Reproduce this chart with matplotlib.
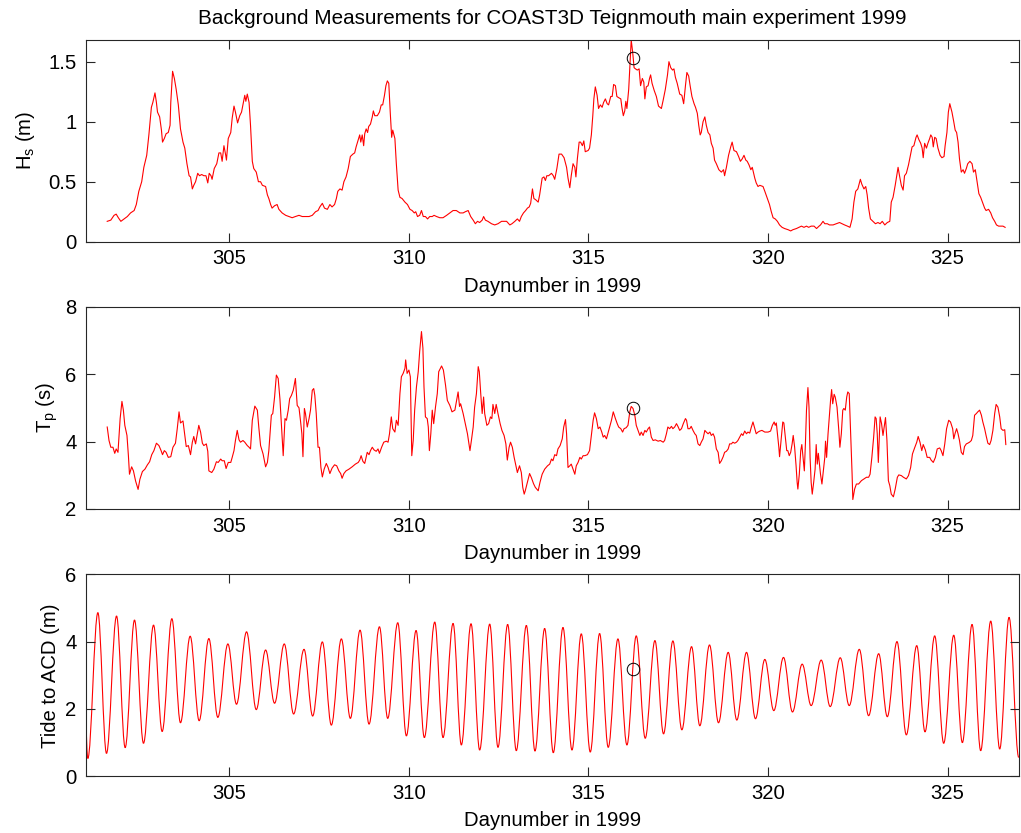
import numpy as np
import matplotlib
matplotlib.use('Agg')
import matplotlib.pyplot as plt
from matplotlib.path import Path
from matplotlib.patches import PathPatch

# wave height Hs (m)
hs_day = [301.60, 301.70, 301.79, 301.85, 301.91, 301.98, 302.07, 302.16, 302.25, 302.35,
          302.41, 302.48, 302.56, 302.62, 302.70, 302.76, 302.83, 302.87, 302.93, 302.97,
          303.00, 303.06, 303.11, 303.14, 303.19, 303.24, 303.30, 303.35, 303.37, 303.42,
          303.47, 303.52, 303.58, 303.64, 303.71, 303.76, 303.82, 303.88, 303.92, 303.97,
          304.01, 304.06, 304.12, 304.17, 304.23, 304.29, 304.35, 304.40, 304.44, 304.49,
          304.52, 304.58, 304.65, 304.71, 304.76, 304.80, 304.85, 304.90, 304.92, 304.97,
          305.04, 305.08, 305.13, 305.17, 305.23, 305.29, 305.34, 305.41, 305.43, 305.46,
          305.50, 305.55, 305.59, 305.64, 305.68, 305.75, 305.81, 305.87, 305.92, 306.01,
          306.06, 306.10, 306.15, 306.19, 306.26, 306.33, 306.38, 306.47, 306.57, 306.66,
          306.75, 306.84, 306.94, 307.03, 307.12, 307.22, 307.31, 307.40, 307.47, 307.52,
          307.59, 307.65, 307.73, 307.80, 307.86, 307.93, 307.98, 308.02, 308.08, 308.14,
          308.19, 308.25, 308.31, 308.37, 308.44, 308.49, 308.53, 308.59, 308.63, 308.66,
          308.70, 308.74, 308.77, 308.81, 308.85, 308.88, 308.93, 308.98, 309.01, 309.05,
          309.12, 309.18, 309.23, 309.27, 309.32, 309.36, 309.40, 309.44, 309.48, 309.52,
          309.55, 309.61, 309.65, 309.70, 309.75, 309.81, 309.89, 309.96, 310.03, 310.09,
          310.15, 310.19, 310.24, 310.30, 310.35, 310.40, 310.46, 310.52, 310.58, 310.65,
          310.70, 310.77, 310.86, 310.95, 311.05, 311.14, 311.23, 311.32, 311.42, 311.51,
          311.57, 311.65, 311.72, 311.79, 311.85, 311.91, 311.97, 312.04, 312.08, 312.13,
          312.20, 312.30, 312.39, 312.48, 312.58, 312.65, 312.72, 312.81, 312.87, 312.95,
          313.02, 313.08, 313.13, 313.19, 313.25, 313.30, 313.35, 313.39, 313.44, 313.48,
          313.53, 313.60, 313.64, 313.71, 313.76, 313.80, 313.84, 313.89, 313.97, 314.02,
          314.06, 314.12, 314.18, 314.25, 314.32, 314.39, 314.43, 314.48, 314.52, 314.57,
          314.62, 314.65, 314.69, 314.74, 314.78, 314.83, 314.87, 314.91, 314.99, 315.03,
          315.08, 315.12, 315.15, 315.19, 315.24, 315.28, 315.33, 315.38, 315.42, 315.47,
          315.52, 315.56, 315.62, 315.66, 315.70, 315.75, 315.79, 315.84, 315.90, 315.93,
          315.97, 316.01, 316.04, 316.07, 316.12, 316.15, 316.19, 316.23, 316.27, 316.31,
          316.36, 316.41, 316.45, 316.50, 316.54, 316.57, 316.61, 316.66, 316.70, 316.73,
          316.77, 316.83, 316.89, 316.95, 317.03, 317.08, 317.14, 317.20, 317.24, 317.29,
          317.34, 317.38, 317.42, 317.47, 317.54, 317.60, 317.65, 317.70, 317.74, 317.79,
          317.83, 317.88, 317.94, 317.98, 318.03, 318.07, 318.11, 318.14, 318.19, 318.24,
          318.28, 318.33, 318.38, 318.42, 318.47, 318.51, 318.56, 318.63, 318.70, 318.76,
          318.79, 318.84, 318.90, 318.96, 319.00, 319.05, 319.12, 319.18, 319.23, 319.28,
          319.33, 319.38, 319.42, 319.47, 319.52, 319.56, 319.63, 319.67, 319.72, 319.77,
          319.86, 319.91, 319.98, 320.04, 320.09, 320.14, 320.20, 320.26, 320.32, 320.39,
          320.46, 320.56, 320.63, 320.69, 320.79, 320.86, 320.93, 321.00, 321.07, 321.13,
          321.20, 321.28, 321.35, 321.42, 321.46, 321.53, 321.58, 321.65, 321.71, 321.81,
          321.90, 321.99, 322.06, 322.13, 322.21, 322.28, 322.34, 322.39, 322.44, 322.50,
          322.57, 322.61, 322.67, 322.72, 322.76, 322.80, 322.85, 322.92, 322.99, 323.06,
          323.12, 323.18, 323.25, 323.32, 323.39, 323.43, 323.48, 323.54, 323.62, 323.66,
          323.71, 323.76, 323.80, 323.85, 323.91, 323.97, 324.01, 324.06, 324.12, 324.15,
          324.20, 324.25, 324.29, 324.32, 324.36, 324.41, 324.45, 324.50, 324.53, 324.57,
          324.60, 324.64, 324.68, 324.73, 324.79, 324.84, 324.90, 324.93, 324.98, 325.02,
          325.06, 325.12, 325.17, 325.21, 325.25, 325.29, 325.33, 325.38, 325.43, 325.47,
          325.52, 325.56, 325.62, 325.68, 325.72, 325.77, 325.82, 325.87, 325.92, 325.98,
          326.03, 326.07, 326.14, 326.20, 326.25, 326.31, 326.36, 326.42, 326.47, 326.54,
          326.60]
hs = [0.17, 0.18, 0.22, 0.23, 0.20, 0.17, 0.19, 0.21, 0.24, 0.26,
      0.31, 0.42, 0.50, 0.62, 0.72, 0.89, 1.12, 1.16, 1.24, 1.16,
      1.08, 1.04, 0.93, 0.83, 0.86, 0.90, 0.91, 0.97, 1.16, 1.42,
      1.36, 1.27, 1.14, 0.94, 0.83, 0.78, 0.65, 0.55, 0.54, 0.44,
      0.47, 0.50, 0.57, 0.55, 0.56, 0.55, 0.55, 0.49, 0.57, 0.55,
      0.52, 0.61, 0.65, 0.74, 0.74, 0.67, 0.80, 0.72, 0.68, 0.86,
      0.91, 1.03, 1.13, 1.08, 0.99, 1.05, 1.08, 1.19, 1.22, 1.17,
      1.23, 1.16, 0.97, 0.67, 0.61, 0.58, 0.50, 0.50, 0.47, 0.46,
      0.39, 0.36, 0.31, 0.28, 0.30, 0.31, 0.27, 0.24, 0.22, 0.21,
      0.20, 0.21, 0.22, 0.21, 0.21, 0.21, 0.22, 0.25, 0.26, 0.29,
      0.32, 0.28, 0.27, 0.31, 0.29, 0.31, 0.36, 0.42, 0.44, 0.43,
      0.50, 0.54, 0.61, 0.71, 0.73, 0.74, 0.79, 0.85, 0.89, 0.83,
      0.89, 0.80, 0.90, 0.94, 0.91, 0.96, 0.98, 1.04, 1.09, 1.05,
      1.05, 1.08, 1.14, 1.14, 1.22, 1.30, 1.34, 1.32, 1.08, 0.87,
      0.93, 0.86, 0.65, 0.43, 0.37, 0.36, 0.33, 0.31, 0.27, 0.26,
      0.24, 0.25, 0.21, 0.22, 0.26, 0.21, 0.21, 0.19, 0.21, 0.21,
      0.22, 0.21, 0.20, 0.20, 0.22, 0.24, 0.26, 0.26, 0.24, 0.24,
      0.25, 0.26, 0.21, 0.18, 0.15, 0.17, 0.16, 0.18, 0.21, 0.18,
      0.17, 0.15, 0.14, 0.15, 0.17, 0.17, 0.17, 0.14, 0.15, 0.17,
      0.19, 0.17, 0.21, 0.24, 0.26, 0.28, 0.29, 0.32, 0.44, 0.36,
      0.35, 0.33, 0.39, 0.53, 0.54, 0.51, 0.55, 0.55, 0.57, 0.55,
      0.52, 0.61, 0.73, 0.73, 0.70, 0.62, 0.53, 0.45, 0.55, 0.65,
      0.62, 0.54, 0.69, 0.83, 0.83, 0.80, 0.84, 0.75, 0.76, 0.78,
      0.89, 1.05, 1.19, 1.29, 1.22, 1.11, 1.14, 1.12, 1.16, 1.19,
      1.15, 1.14, 1.21, 1.21, 1.31, 1.30, 1.21, 1.20, 1.19, 1.12,
      1.05, 1.09, 1.17, 1.11, 1.27, 1.44, 1.68, 1.58, 1.45, 1.44,
      1.43, 1.44, 1.30, 1.36, 1.33, 1.19, 1.29, 1.30, 1.36, 1.39,
      1.32, 1.26, 1.21, 1.13, 1.11, 1.18, 1.27, 1.39, 1.50, 1.45,
      1.43, 1.44, 1.37, 1.32, 1.23, 1.22, 1.15, 1.30, 1.41, 1.38,
      1.30, 1.21, 1.15, 1.12, 1.07, 0.97, 0.89, 0.91, 1.00, 1.04,
      0.97, 0.91, 0.89, 0.82, 0.78, 0.68, 0.65, 0.60, 0.58, 0.60,
      0.55, 0.62, 0.72, 0.79, 0.83, 0.76, 0.75, 0.71, 0.67, 0.69,
      0.72, 0.68, 0.67, 0.64, 0.60, 0.62, 0.53, 0.49, 0.46, 0.47,
      0.46, 0.42, 0.36, 0.31, 0.25, 0.20, 0.19, 0.17, 0.14, 0.12,
      0.11, 0.10, 0.09, 0.10, 0.11, 0.12, 0.13, 0.12, 0.13, 0.12,
      0.13, 0.13, 0.11, 0.13, 0.14, 0.17, 0.15, 0.15, 0.14, 0.14,
      0.15, 0.16, 0.15, 0.14, 0.13, 0.12, 0.19, 0.33, 0.42, 0.44,
      0.52, 0.48, 0.44, 0.46, 0.39, 0.28, 0.19, 0.17, 0.15, 0.16,
      0.15, 0.17, 0.14, 0.16, 0.17, 0.33, 0.37, 0.47, 0.62, 0.55,
      0.47, 0.43, 0.55, 0.57, 0.64, 0.73, 0.79, 0.80, 0.87, 0.89,
      0.85, 0.82, 0.78, 0.70, 0.82, 0.78, 0.82, 0.86, 0.89, 0.87,
      0.79, 0.87, 0.86, 0.78, 0.72, 0.70, 0.71, 0.80, 0.91, 1.08,
      1.15, 1.08, 1.00, 0.93, 0.91, 0.83, 0.69, 0.58, 0.60, 0.57,
      0.61, 0.65, 0.67, 0.65, 0.58, 0.60, 0.50, 0.40, 0.37, 0.32,
      0.28, 0.26, 0.27, 0.24, 0.20, 0.17, 0.14, 0.13, 0.13, 0.13,
      0.12]

# peak period Tp (s)
tp_day = [301.60, 301.65, 301.70, 301.76, 301.81, 301.85, 301.90, 301.96, 302.01, 302.05,
          302.09, 302.15, 302.19, 302.22, 302.28, 302.33, 302.39, 302.46, 302.51, 302.58,
          302.65, 302.72, 302.78, 302.84, 302.90, 302.97, 303.04, 303.10, 303.14, 303.19,
          303.24, 303.30, 303.37, 303.43, 303.50, 303.55, 303.60, 303.64, 303.71, 303.76,
          303.80, 303.86, 303.92, 303.97, 304.01, 304.06, 304.11, 304.15, 304.20, 304.25,
          304.29, 304.36, 304.40, 304.43, 304.51, 304.57, 304.64, 304.69, 304.76, 304.80,
          304.86, 304.91, 304.97, 305.04, 305.08, 305.13, 305.17, 305.22, 305.27, 305.31,
          305.38, 305.43, 305.50, 305.55, 305.59, 305.64, 305.71, 305.78, 305.82, 305.87,
          305.94, 306.01, 306.06, 306.10, 306.17, 306.21, 306.26, 306.31, 306.36, 306.41,
          306.45, 306.50, 306.55, 306.59, 306.64, 306.68, 306.73, 306.78, 306.83, 306.84,
          306.89, 306.94, 306.98, 307.02, 307.05, 307.09, 307.12, 307.17, 307.22, 307.26,
          307.31, 307.35, 307.38, 307.42, 307.47, 307.51, 307.55, 307.59, 307.64, 307.70,
          307.75, 307.80, 307.86, 307.93, 307.99, 308.05, 308.10, 308.14, 308.19, 308.25,
          308.33, 308.42, 308.51, 308.59, 308.63, 308.67, 308.72, 308.77, 308.84, 308.89,
          308.93, 308.98, 309.03, 309.09, 309.14, 309.18, 309.24, 309.30, 309.37, 309.42,
          309.46, 309.51, 309.55, 309.61, 309.65, 309.70, 309.75, 309.79, 309.84, 309.89,
          309.91, 309.95, 310.00, 310.04, 310.08, 310.12, 310.16, 310.21, 310.26, 310.30,
          310.35, 310.39, 310.42, 310.46, 310.51, 310.54, 310.57, 310.61, 310.65, 310.69,
          310.74, 310.79, 310.83, 310.91, 310.96, 311.02, 311.07, 311.14, 311.20, 311.28,
          311.33, 311.37, 311.41, 311.44, 311.51, 311.57, 311.63, 311.70, 311.74, 311.79,
          311.83, 311.88, 311.93, 311.96, 312.00, 312.04, 312.08, 312.11, 312.17, 312.22,
          312.27, 312.31, 312.34, 312.39, 312.43, 312.48, 312.54, 312.59, 312.65, 312.70,
          312.74, 312.79, 312.83, 312.88, 312.93, 312.98, 313.02, 313.08, 313.13, 313.17,
          313.21, 313.24, 313.30, 313.36, 313.41, 313.47, 313.52, 313.60, 313.65, 313.71,
          313.78, 313.86, 313.92, 313.97, 314.01, 314.06, 314.11, 314.15, 314.21, 314.27,
          314.31, 314.36, 314.39, 314.43, 314.48, 314.52, 314.57, 314.62, 314.66, 314.71,
          314.76, 314.80, 314.85, 314.90, 314.97, 315.03, 315.08, 315.13, 315.17, 315.22,
          315.27, 315.32, 315.37, 315.41, 315.45, 315.50, 315.55, 315.59, 315.64, 315.69,
          315.75, 315.80, 315.84, 315.90, 315.95, 315.99, 316.05, 316.10, 316.15, 316.19,
          316.24, 316.29, 316.33, 316.38, 316.43, 316.47, 316.52, 316.57, 316.61, 316.66,
          316.70, 316.75, 316.80, 316.86, 316.94, 317.00, 317.08, 317.12, 317.17, 317.21,
          317.26, 317.31, 317.35, 317.40, 317.45, 317.49, 317.54, 317.59, 317.64, 317.70,
          317.73, 317.77, 317.82, 317.86, 317.91, 317.96, 318.00, 318.05, 318.10, 318.14,
          318.19, 318.24, 318.28, 318.33, 318.38, 318.42, 318.47, 318.51, 318.56, 318.61,
          318.65, 318.70, 318.75, 318.79, 318.84, 318.89, 318.93, 318.98, 319.02, 319.07,
          319.12, 319.16, 319.21, 319.26, 319.30, 319.35, 319.40, 319.44, 319.49, 319.53,
          319.58, 319.63, 319.67, 319.72, 319.77, 319.83, 319.91, 320.00, 320.07, 320.12,
          320.17, 320.20, 320.23, 320.26, 320.30, 320.32, 320.37, 320.41, 320.44, 320.48,
          320.52, 320.55, 320.59, 320.63, 320.67, 320.70, 320.74, 320.78, 320.81, 320.83,
          320.87, 320.91, 320.94, 320.98, 321.01, 321.04, 321.07, 321.11, 321.14, 321.17,
          321.20, 321.23, 321.27, 321.31, 321.34, 321.37, 321.40, 321.43, 321.46, 321.50,
          321.54, 321.58, 321.60, 321.63, 321.67, 321.71, 321.74, 321.77, 321.80, 321.84,
          321.87, 321.92, 321.97, 322.00, 322.04, 322.08, 322.11, 322.15, 322.19, 322.22,
          322.26, 322.30, 322.34, 322.36, 322.41, 322.46, 322.52, 322.60, 322.67, 322.74,
          322.80, 322.84, 322.89, 322.94, 322.98, 323.01, 323.04, 323.07, 323.10, 323.12,
          323.16, 323.20, 323.24, 323.27, 323.31, 323.35, 323.39, 323.43, 323.49, 323.54,
          323.60, 323.64, 323.71, 323.77, 323.85, 323.91, 323.97, 324.02, 324.08, 324.14,
          324.18, 324.23, 324.28, 324.32, 324.38, 324.43, 324.50, 324.54, 324.60, 324.66,
          324.71, 324.78, 324.82, 324.87, 324.92, 324.97, 325.03, 325.08, 325.14, 325.17,
          325.21, 325.25, 325.29, 325.33, 325.38, 325.43, 325.47, 325.52, 325.56, 325.61,
          325.66, 325.70, 325.75, 325.80, 325.84, 325.89, 325.94, 325.98, 326.03, 326.07,
          326.12, 326.17, 326.21, 326.26, 326.31, 326.35, 326.40, 326.45, 326.49, 326.54,
          326.59, 326.62]
tp = [4.43, 4.03, 3.83, 3.83, 3.65, 3.78, 3.68, 4.68, 5.19, 4.93,
      4.48, 4.18, 3.58, 3.03, 3.25, 3.13, 2.83, 2.58, 2.88, 3.11,
      3.18, 3.31, 3.40, 3.61, 3.73, 3.95, 3.88, 3.73, 3.61, 3.73,
      3.68, 3.53, 3.55, 3.83, 3.95, 4.38, 4.88, 4.55, 4.61, 4.18,
      3.85, 3.88, 3.61, 3.98, 4.15, 3.93, 4.23, 4.48, 4.28, 3.95,
      3.88, 3.93, 3.71, 3.13, 3.08, 3.18, 3.40, 3.38, 3.48, 3.43,
      3.43, 3.20, 3.38, 3.38, 3.53, 3.73, 4.03, 4.33, 4.05, 3.98,
      4.03, 3.98, 3.88, 3.83, 3.78, 4.63, 5.05, 4.93, 4.43, 3.88,
      3.63, 3.25, 3.38, 3.73, 4.78, 4.83, 5.32, 5.97, 5.87, 5.25,
      4.53, 3.58, 4.68, 4.63, 4.93, 5.27, 5.37, 5.52, 5.82, 5.87,
      5.07, 5.00, 4.63, 4.23, 3.55, 4.98, 4.83, 4.43, 4.68, 4.93,
      5.52, 5.57, 5.37, 4.83, 3.83, 3.83, 3.23, 2.95, 3.18, 3.35,
      3.23, 3.05, 3.21, 3.31, 3.28, 3.13, 3.05, 2.91, 3.05, 3.13,
      3.18, 3.25, 3.33, 3.38, 3.45, 3.58, 3.41, 3.35, 3.68, 3.61,
      3.73, 3.83, 3.75, 3.71, 3.78, 3.65, 3.83, 3.98, 4.01, 3.98,
      4.23, 4.73, 4.38, 4.28, 4.63, 4.48, 5.42, 5.92, 6.02, 6.17,
      6.42, 6.02, 6.12, 5.92, 3.58, 4.03, 4.93, 5.62, 6.07, 6.67,
      7.26, 6.77, 5.62, 4.73, 4.68, 4.43, 3.73, 4.23, 4.93, 4.53,
      5.02, 5.42, 6.07, 6.24, 6.12, 5.67, 5.22, 5.07, 4.88, 4.93,
      5.22, 5.47, 5.04, 5.12, 4.83, 4.53, 4.23, 3.73, 4.03, 4.43,
      5.02, 5.42, 6.22, 6.07, 5.42, 4.83, 5.32, 4.83, 4.48, 4.53,
      4.73, 4.68, 5.10, 4.83, 5.10, 4.83, 4.53, 4.33, 4.18, 3.93,
      3.45, 3.83, 3.98, 3.83, 3.53, 3.28, 3.08, 3.28, 3.08, 2.64,
      2.44, 2.54, 2.79, 3.05, 2.93, 2.75, 2.64, 2.54, 2.79, 3.03,
      3.18, 3.28, 3.33, 3.48, 3.43, 3.61, 3.58, 3.78, 3.88, 4.08,
      4.43, 4.65, 4.23, 3.23, 3.28, 3.33, 3.18, 3.03, 3.28, 3.38,
      3.53, 3.48, 3.58, 3.58, 3.61, 3.73, 4.18, 4.63, 4.85, 4.68,
      4.38, 4.43, 4.28, 4.13, 4.18, 4.08, 4.28, 4.43, 4.63, 4.88,
      4.68, 4.53, 4.43, 4.38, 4.28, 4.38, 4.41, 4.48, 4.88, 5.04,
      4.98, 4.78, 4.48, 4.33, 4.18, 4.28, 4.18, 4.33, 4.28, 4.38,
      4.43, 4.13, 4.03, 4.05, 4.01, 4.03, 3.98, 4.03, 4.23, 4.43,
      4.38, 4.45, 4.38, 4.43, 4.53, 4.45, 4.33, 4.38, 4.53, 4.68,
      4.63, 4.38, 4.38, 4.45, 4.33, 4.23, 4.18, 3.93, 3.88, 3.98,
      4.08, 4.33, 4.28, 4.23, 4.28, 4.18, 4.23, 4.13, 3.78, 3.68,
      3.35, 3.43, 3.55, 3.68, 3.71, 3.78, 3.93, 3.93, 3.98, 3.95,
      3.98, 4.03, 4.13, 4.23, 4.18, 4.31, 4.23, 4.28, 4.25, 4.41,
      4.58, 4.38, 4.23, 4.28, 4.31, 4.33, 4.28, 4.28, 4.31, 4.48,
      4.58, 4.48, 4.55, 4.23, 3.83, 3.55, 4.13, 4.58, 4.55, 4.13,
      3.73, 3.73, 3.58, 3.68, 3.93, 4.18, 3.83, 3.28, 2.79, 2.59,
      3.03, 3.73, 3.91, 3.48, 3.13, 3.93, 4.93, 5.60, 5.02, 3.53,
      2.79, 2.44, 2.79, 3.18, 3.91, 3.33, 3.65, 3.33, 3.03, 2.74,
      3.13, 3.53, 4.01, 3.53, 4.23, 4.78, 5.22, 5.54, 5.12, 5.40,
      5.32, 5.02, 4.33, 3.83, 4.23, 4.93, 4.98, 4.93, 5.32, 5.47,
      5.42, 4.23, 3.03, 2.28, 2.59, 2.74, 2.74, 2.84, 2.89, 2.94,
      2.94, 3.03, 3.53, 4.13, 4.73, 4.68, 4.23, 3.38, 4.23, 4.73,
      4.53, 4.18, 4.48, 4.71, 4.03, 2.84, 2.69, 2.44, 2.36, 2.59,
      2.94, 3.01, 2.99, 2.94, 2.89, 2.99, 3.23, 3.63, 3.81, 3.98,
      4.15, 3.98, 3.73, 3.91, 3.75, 3.53, 3.53, 3.45, 3.38, 3.53,
      3.78, 3.81, 3.73, 3.58, 3.93, 4.38, 4.63, 4.58, 4.38, 4.08,
      4.25, 4.38, 4.23, 4.03, 3.68, 3.61, 3.85, 3.93, 3.95, 3.98,
      4.03, 4.18, 4.78, 4.83, 4.88, 4.93, 4.78, 4.58, 4.38, 4.18,
      3.95, 3.91, 4.03, 4.33, 4.83, 5.10, 5.02, 4.73, 4.38, 4.33,
      4.35, 3.91]

# tide level (m above ACD): start point and successive high/low waters
tide_day = [301.00, 301.06, 301.34, 301.58, 301.86, 302.10, 302.36, 302.61, 302.89, 303.13,
            303.40, 303.64, 303.91, 304.16, 304.43, 304.68, 304.96, 305.20, 305.48, 305.75,
            306.01, 306.26, 306.53, 306.79, 307.08, 307.32, 307.59, 307.84, 308.12, 308.37,
            308.64, 308.89, 309.18, 309.41, 309.69, 309.93, 310.20, 310.43, 310.72, 310.95,
            311.23, 311.46, 311.73, 311.97, 312.25, 312.48, 312.75, 312.99, 313.27, 313.51,
            313.78, 314.02, 314.29, 314.54, 314.80, 315.05, 315.31, 315.55, 315.82, 316.07,
            316.33, 316.58, 316.85, 317.09, 317.35, 317.60, 317.87, 318.10, 318.37, 318.62,
            318.89, 319.13, 319.40, 319.65, 319.91, 320.16, 320.43, 320.68, 320.95, 321.20,
            321.48, 321.73, 322.01, 322.26, 322.54, 322.80, 323.08, 323.32, 323.59, 323.85,
            324.14, 324.37, 324.64, 324.89, 325.17, 325.41, 325.68, 325.92, 326.20, 326.45,
            326.71, 326.98]
tide = [1.87, 0.53, 4.86, 0.68, 4.76, 0.85, 4.64, 0.98, 4.49, 1.33,
        4.68, 1.59, 4.16, 1.65, 4.09, 1.75, 3.93, 2.14, 4.29, 1.98,
        3.75, 2.17, 3.93, 1.85, 3.77, 1.79, 3.99, 1.52, 4.08, 1.72,
        4.34, 1.55, 4.44, 1.72, 4.56, 1.20, 4.33, 1.15, 4.58, 1.15,
        4.54, 0.93, 4.53, 0.78, 4.52, 0.86, 4.51, 0.76, 4.48, 0.75,
        4.39, 0.70, 4.42, 0.78, 4.23, 0.72, 4.24, 0.86, 4.08, 0.93,
        4.17, 1.13, 4.03, 1.26, 4.02, 1.38, 3.85, 1.50, 3.90, 1.59,
        3.68, 1.67, 3.68, 1.71, 3.47, 1.95, 3.53, 1.91, 3.33, 2.10,
        3.45, 2.07, 3.52, 2.10, 3.77, 1.80, 3.64, 1.77, 4.00, 1.23,
        3.88, 1.32, 4.17, 0.98, 4.19, 1.00, 4.51, 0.76, 4.61, 0.81,
        4.72, 0.56]

# circled sample on each panel
mark_day = 316.24
mark_hs = 1.53
mark_tp = 5.0
mark_tide = 3.2


def tide_path(days, levels, k=0.364):
    # smooth curve through the high/low waters: bezier segments with flat
    # tangents at every turning point, drawn by matplotlib's path renderer
    verts = [(days[0], levels[0])]
    codes = [Path.MOVETO]
    for i in range(1, len(days)):
        dx = days[i] - days[i - 1]
        y0 = levels[i - 1]
        if i == 1:
            y0 = levels[0] + (levels[1] - levels[0]) * 0.5
        verts += [(days[i - 1] + k * dx, y0), (days[i] - k * dx, levels[i]),
                  (days[i], levels[i])]
        codes += [Path.CURVE4] * 3
    return Path(verts, codes)


plt.rcParams['font.family'] = ['Liberation Sans', 'DejaVu Sans']
plt.rcParams['mathtext.fontset'] = 'custom'
plt.rcParams['mathtext.rm'] = 'Liberation Sans'
plt.rcParams['mathtext.it'] = 'Liberation Sans:italic'
plt.rcParams['font.size'] = 14.6

fig = plt.figure(figsize=(10.21, 8.33), dpi=100)
boxes = [[0.0839, 0.7098, 0.9146, 0.2421],
         [0.0839, 0.3890, 0.9146, 0.2429],
         [0.0839, 0.0681, 0.9146, 0.2425]]
axes = [fig.add_axes(b) for b in boxes]

ylabels = [r'H$_\mathrm{s}$ (m)', r'T$_\mathrm{p}$ (s)', 'Tide to ACD (m)']
ylims = [(0, 1.68), (2, 8), (0, 6)]
yticks = [[0, 0.5, 1, 1.5], [2, 4, 6, 8], [0, 2, 4, 6]]
yticklabels = [['0', '0.5', '1', '1.5'], ['2', '4', '6', '8'], ['0', '2', '4', '6']]
marks = [mark_hs, mark_tp, mark_tide]
ylabelpads = [8, 4, 4]

axes[0].plot(hs_day, hs, color='red', lw=0.8)
axes[1].plot(tp_day, tp, color='red', lw=0.8)
axes[2].add_patch(PathPatch(tide_path(tide_day, tide), fill=False,
                            edgecolor='red', lw=0.8))

for ax, m, yl, lim, yt, ytl, lp in zip(axes, marks, ylabels, ylims, yticks,
                                      yticklabels, ylabelpads):
    ax.plot([mark_day], [m], 'o', mfc='none', mec='k', ms=9, mew=0.7)
    ax.set_xlim(301, 327)
    ax.set_ylim(*lim)
    ax.set_xticks([305, 310, 315, 320, 325])
    ax.set_yticks(yt)
    ax.set_yticklabels(ytl)
    ax.set_xlabel('Daynumber in 1999', labelpad=6)
    ax.set_ylabel(yl, labelpad=lp)
    ax.tick_params(direction='in', top=True, right=True, length=6.7, width=0.8,
                   color='#262626', labelsize=14.6)
    ax.tick_params(axis='x', pad=5.5)
    ax.tick_params(axis='y', pad=6.5)
    for s in ax.spines.values():
        s.set_color('#262626')
        s.set_linewidth(0.8)

axes[0].set_title('Background Measurements for COAST3D Teignmouth main experiment 1999',
                  fontsize=14.9, pad=11.5)

fig.savefig('out.png', dpi=100)
